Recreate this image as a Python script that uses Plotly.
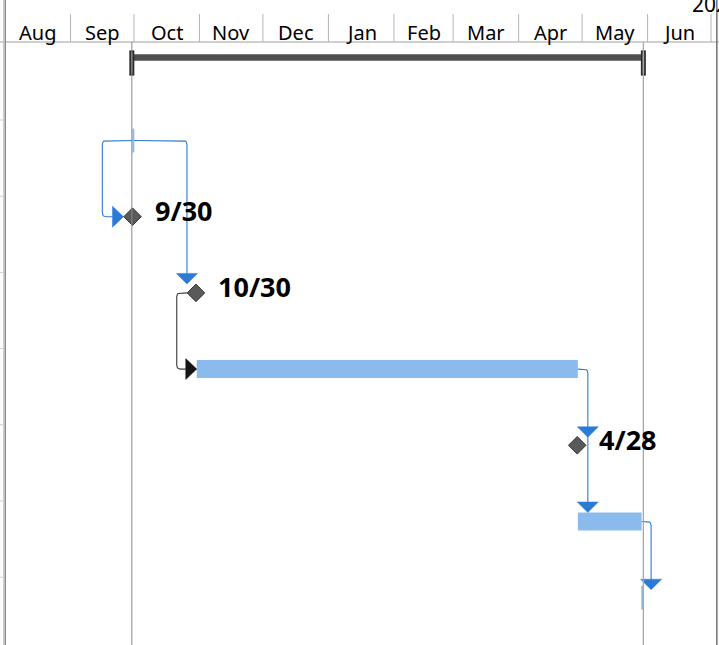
import pandas as pd
import plotly.graph_objects as go

# ---------------- data ----------------
month_labels = ["Aug", "Sep", "Oct", "Nov", "Dec", "Jan", "Feb", "Mar", "Apr", "May", "Jun"]
month_starts = ["2024-08-01", "2024-09-01", "2024-10-01", "2024-11-01", "2024-12-01",
                "2025-01-01", "2025-02-01", "2025-03-01", "2025-04-01", "2025-05-01",
                "2025-06-01", "2025-07-01"]
year_label = "2025"

summary_row = 0
summary_start = "2024-09-30 00:00"
summary_finish = "2025-05-30 00:00"

marker_rows = [1, 7]
marker_dates = ["2024-09-30 17:00", "2025-05-29 12:00"]

milestone_labels = ["9/30", "10/30", "4/28"]
milestone_rows = [2, 3, 5]
milestone_dates = ["2024-09-30 08:00", "2024-10-30 08:00", "2025-04-28 17:00"]

bar_rows = [4, 6]
bar_starts = ["2024-10-30 17:00", "2025-04-29 00:00"]
bar_finishes = ["2025-04-29 00:00", "2025-05-29 04:00"]

# ---------------- scale helpers (layout) ----------------
W, H = 719, 645
ORIGIN = pd.Timestamp("2024-08-01")
X0 = 5.0          # pixel of ORIGIN
PXD = 2.1138      # pixels per day
Y0 = 64.3         # pixel of row 0 centre
ROWPX = 76.2      # pixels per row


def xpx(d):
    return X0 + (pd.Timestamp(d) - ORIGIN) / pd.Timedelta(days=1) * PXD


def xdate(px):
    return ORIGIN + pd.Timedelta(days=(px - X0) / PXD)


def ypx(r):
    return Y0 + r * ROWPX


def yrow(py):
    return (py - Y0) / ROWPX


def rounded(pts, r=4.0, n=5):
    out = [pts[0]]
    for i in range(1, len(pts) - 1):
        (x0, y0), (x1, y1), (x2, y2) = pts[i - 1], pts[i], pts[i + 1]
        l1 = ((x1 - x0) ** 2 + (y1 - y0) ** 2) ** 0.5
        l2 = ((x2 - x1) ** 2 + (y2 - y1) ** 2) ** 0.5
        rr = min(r, l1 / 2, l2 / 2)
        ax, ay = x1 - (x1 - x0) / l1 * rr, y1 - (y1 - y0) / l1 * rr
        bx, by = x1 + (x2 - x1) / l2 * rr, y1 + (y2 - y1) / l2 * rr
        for k in range(n + 1):
            t = k / n
            out.append(((1 - t) ** 2 * ax + 2 * (1 - t) * t * x1 + t ** 2 * bx,
                        (1 - t) ** 2 * ay + 2 * (1 - t) * t * y1 + t ** 2 * by))
    out.append(pts[-1])
    return out


fig = go.Figure()

LINK_BLUE = "#2B7BD6"
BAR_BLUE = "#8BBBEC"


def add_path(pts, color, width=1.1):
    pts = rounded(pts)
    fig.add_trace(go.Scatter(x=[xdate(p[0]) for p in pts], y=[yrow(p[1]) for p in pts],
                             mode="lines", line=dict(color=color, width=width),
                             hoverinfo="skip"))


def add_arrow_down(cx, tip, color):
    pts = [(cx - 10.5, tip - 10.5), (cx + 10.5, tip - 10.5), (cx, tip), (cx - 10.5, tip - 10.5)]
    fig.add_trace(go.Scatter(x=[xdate(p[0]) for p in pts], y=[yrow(p[1]) for p in pts],
                             mode="lines", fill="toself", fillcolor=color,
                             line=dict(color=color, width=0.5), hoverinfo="skip"))


def add_arrow_right(tip, cy, color):
    pts = [(tip - 11, cy - 10.5), (tip - 11, cy + 10.5), (tip, cy), (tip - 11, cy - 10.5)]
    fig.add_trace(go.Scatter(x=[xdate(p[0]) for p in pts], y=[yrow(p[1]) for p in pts],
                             mode="lines", fill="toself", fillcolor=color,
                             line=dict(color=color, width=0.5), hoverinfo="skip"))


# ---------------- bars ----------------
def dur_ms(a, b):
    return (pd.Timestamp(b) - pd.Timestamp(a)) / pd.Timedelta(milliseconds=1)


fig.add_trace(go.Bar(
    y=bar_rows, base=bar_starts,
    x=[dur_ms(s, f) for s, f in zip(bar_starts, bar_finishes)],
    orientation="h", width=18 / ROWPX, marker=dict(color=BAR_BLUE, line=dict(width=0)),
    hoverinfo="skip"))

fig.add_trace(go.Bar(
    y=[summary_row], base=[summary_start], x=[dur_ms(summary_start, summary_finish)],
    orientation="h", width=6.4 / ROWPX, offset=-10.0 / ROWPX,
    marker=dict(color="#505050", line=dict(width=0)), hoverinfo="skip"))

# summary end caps
fig.add_trace(go.Scatter(
    x=[summary_start, summary_finish], y=[summary_row - 1.3 / ROWPX] * 2, mode="markers",
    marker=dict(symbol="line-ns", size=18, line=dict(color="#2a2a2a", width=5)),
    hoverinfo="skip"))
fig.add_trace(go.Scatter(
    x=[summary_start, summary_finish], y=[summary_row - 1.3 / ROWPX] * 2, mode="markers",
    marker=dict(symbol="line-ns", size=15, line=dict(color="#5e5e5e", width=2)),
    hoverinfo="skip"))

# ---------------- links ----------------
T1x, T1y = xpx(marker_dates[0]), ypx(marker_rows[0])
T7x, T7y = xpx(marker_dates[1]), ypx(marker_rows[1])
M1x, M1y = xpx(milestone_dates[0]), ypx(milestone_rows[0])
M2x, M2y = xpx(milestone_dates[1]), ypx(milestone_rows[1])
M3x, M3y = xpx(milestone_dates[2]), ypx(milestone_rows[2])
B1s, B1e, B1y = xpx(bar_starts[0]), xpx(bar_finishes[0]), ypx(bar_rows[0])
B2s, B2e, B2y = xpx(bar_starts[1]), xpx(bar_finishes[1]), ypx(bar_rows[1])

# T1 -> 9/30
add_path([(T1x, T1y), (T1x - 31, T1y), (T1x - 31, M1y), (M1x - 20, M1y)], LINK_BLUE)
add_arrow_right(M1x - 9, M1y, LINK_BLUE)
# T1 -> 10/30
add_path([(T1x, T1y), (M2x - 9, T1y), (M2x - 9, M2y - 19)], LINK_BLUE)
add_arrow_down(M2x - 9, M2y - 9, LINK_BLUE)
# 10/30 -> bar 1 (black)
add_path([(M2x - 9, M2y), (B1s - 20, M2y), (B1s - 20, B1y), (B1s - 11, B1y)], "#3a3a3a")
add_arrow_right(B1s, B1y, "#151515")
# bar 1 -> 4/28 and bar 2
add_path([(B1e, B1y), (B1e + 10, B1y), (B1e + 10, B2y - 19)], LINK_BLUE)
add_arrow_down(B1e + 10, M3y - 8, LINK_BLUE)
add_arrow_down(B1e + 10, B2y - 9, LINK_BLUE)
# bar 2 -> T7
add_path([(B2e, B2y), (B2e + 9.5, B2y), (B2e + 9.5, T7y - 18)], LINK_BLUE)
add_arrow_down(B2e + 9.5, T7y - 8, LINK_BLUE)

# zero-length task markers
fig.add_trace(go.Scatter(
    x=marker_dates, y=marker_rows, mode="markers",
    marker=dict(symbol="line-ns", size=17, line=dict(color=BAR_BLUE, width=2)),
    hoverinfo="skip"))

# milestones
fig.add_trace(go.Scatter(
    x=milestone_dates, y=milestone_rows, mode="markers",
    marker=dict(symbol="diamond", size=13.5, color="#5a5a5a",
                line=dict(color="#333333", width=1)),
    hoverinfo="skip"))

annotations = []
for lab, d, r in zip(milestone_labels, milestone_dates, milestone_rows):
    annotations.append(dict(x=d, y=r, text="<b>" + lab + "</b>", showarrow=False,
                            xanchor="left", yanchor="middle", xshift=20, yshift=6,
                            font=dict(family="Noto Sans", size=27, color="#000000")))

# month labels (centred in each month)
for i, lab in enumerate(month_labels):
    a, b = pd.Timestamp(month_starts[i]), pd.Timestamp(month_starts[i + 1])
    annotations.append(dict(x=a + (b - a) / 2, y=yrow(32.5), text=lab, showarrow=False,
                            xanchor="center", yanchor="middle",
                            font=dict(family="Noto Sans", size=20, color="#000000")))
annotations.append(dict(x=xdate(690), y=yrow(4), text=year_label, showarrow=False,
                        xanchor="left", yanchor="middle",
                        font=dict(family="Noto Sans", size=21, color="#000000")))

# ---------------- grid / frame shapes ----------------
shapes = []
# header bottom line
shapes.append(dict(type="line", xref="paper", yref="y", x0=0, x1=1, y0=yrow(42), y1=yrow(42),
                   line=dict(color="#a0a0a0", width=1)))
# month boundary ticks
for d in month_starts:
    shapes.append(dict(type="line", xref="x", yref="y", x0=d, x1=d, y0=yrow(14), y1=yrow(42),
                       line=dict(color="#b4b4b4", width=1)))
# project start / finish lines
shapes.append(dict(type="line", xref="x", yref="y", x0=summary_start, x1=summary_start,
                   y0=yrow(42), y1=yrow(H), line=dict(color="#8a8a8a", width=1)))
shapes.append(dict(type="line", xref="x", yref="y", x0=summary_finish, x1=summary_finish,
                   y0=yrow(42), y1=yrow(H), line=dict(color="#a8a8a8", width=1.3)))
# left border
shapes.append(dict(type="line", xref="paper", yref="paper", x0=4.2 / W, x1=4.2 / W, y0=0, y1=1,
                   line=dict(color="#c0c0c0", width=2)))
shapes.append(dict(type="line", xref="paper", yref="paper", x0=5.5 / W, x1=5.5 / W, y0=0, y1=1,
                   line=dict(color="#8a8a8a", width=1)))
# right border
shapes.append(dict(type="line", xref="paper", yref="paper", x0=716.8 / W, x1=716.8 / W, y0=0, y1=1,
                   line=dict(color="#7a7a7a", width=1.6)))
# row gridline stubs at left
for k in range(1, 8):
    yy = k - 20.5 / ROWPX
    shapes.append(dict(type="line", xref="paper", yref="y", x0=0, x1=3.5 / W, y0=yy, y1=yy,
                       line=dict(color="#cccccc", width=1)))

fig.update_layout(
    width=W, height=H, margin=dict(l=0, r=0, t=0, b=0),
    paper_bgcolor="white", plot_bgcolor="white", showlegend=False,
    barmode="overlay", hovermode=False,
    xaxis=dict(type="date", range=[xdate(0), xdate(W)], visible=False, fixedrange=True),
    yaxis=dict(range=[yrow(H), yrow(0)], visible=False, fixedrange=True),
    annotations=annotations, shapes=shapes,
)

fig.write_html("out.html", post_script="document.body.style.margin='0';",
               config={"displayModeBar": False})
